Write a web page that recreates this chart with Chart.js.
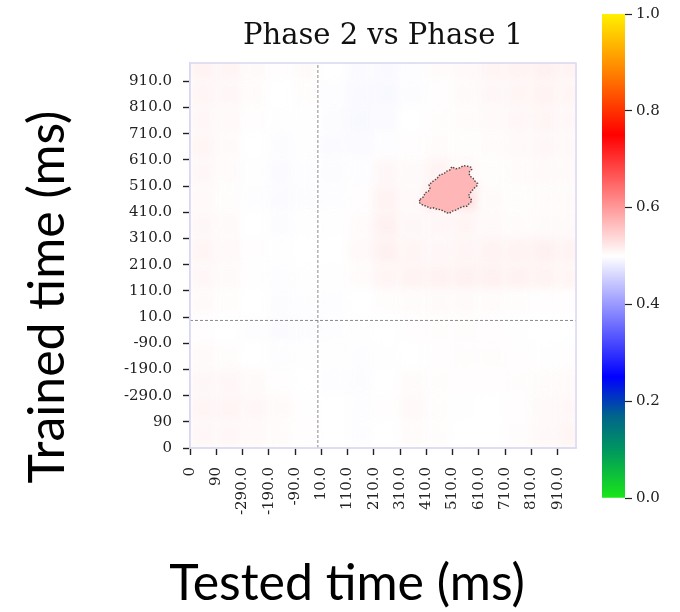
<!DOCTYPE html>
<html>
<head>
<meta charset="utf-8">
<script src="https://cdn.jsdelivr.net/npm/chart.js@4.4.1/dist/chart.umd.min.js"></script>
<style>
  html, body { margin: 0; padding: 0; background: #fff; }
  #wrap { position: relative; width: 680px; height: 612px; }
  .layer { position: absolute; left: 0; top: 0; width: 680px; height: 612px; }
</style>
</head>
<body>
<div id="wrap">
  <div class="layer"><canvas id="heat"></canvas></div>
  <div class="layer"><canvas id="cbar"></canvas></div>
</div>
<script>
// tick labels, same on both axes (index 0 at bottom/left)
const tickLabels = ['0', '90', '-290.0', '-190.0', '-90.0', '10.0', '110.0', '210.0',
                    '310.0', '410.0', '510.0', '610.0', '710.0', '810.0', '910.0'];
const axisMax = 14.7;
const onsetTick = 4.87;   // where the dashed lines cross (time 0)

// decoding values, one cell per tick step; rows run from the top (y=14) down to y=0
const heatRows = [
  [0.512, 0.510, 0.505, 0.502, 0.505, 0.500, 0.496, 0.494, 0.498, 0.504, 0.506, 0.510, 0.512, 0.514, 0.512],
  [0.510, 0.508, 0.504, 0.500, 0.503, 0.498, 0.494, 0.493, 0.497, 0.502, 0.505, 0.508, 0.510, 0.512, 0.510],
  [0.508, 0.506, 0.502, 0.499, 0.501, 0.497, 0.493, 0.495, 0.500, 0.503, 0.504, 0.506, 0.508, 0.510, 0.508],
  [0.510, 0.505, 0.500, 0.497, 0.499, 0.496, 0.495, 0.498, 0.502, 0.504, 0.503, 0.504, 0.506, 0.508, 0.507],
  [0.508, 0.504, 0.499, 0.496, 0.498, 0.497, 0.498, 0.508, 0.505, 0.512, 0.507, 0.503, 0.504, 0.506, 0.506],
  [0.506, 0.503, 0.498, 0.496, 0.497, 0.498, 0.502, 0.512, 0.506, 0.525, 0.528, 0.505, 0.503, 0.504, 0.505],
  [0.508, 0.505, 0.500, 0.497, 0.499, 0.499, 0.504, 0.514, 0.508, 0.508, 0.510, 0.506, 0.504, 0.505, 0.506],
  [0.510, 0.506, 0.502, 0.499, 0.500, 0.500, 0.506, 0.514, 0.510, 0.508, 0.510, 0.512, 0.512, 0.514, 0.512],
  [0.508, 0.505, 0.501, 0.498, 0.499, 0.499, 0.504, 0.510, 0.512, 0.513, 0.514, 0.514, 0.513, 0.512, 0.510],
  [0.505, 0.503, 0.500, 0.497, 0.498, 0.498, 0.500, 0.503, 0.504, 0.505, 0.505, 0.504, 0.503, 0.502, 0.502],
  [0.502, 0.500, 0.498, 0.496, 0.497, 0.498, 0.499, 0.500, 0.502, 0.503, 0.503, 0.502, 0.501, 0.500, 0.500],
  [0.505, 0.503, 0.500, 0.498, 0.499, 0.499, 0.498, 0.499, 0.500, 0.502, 0.503, 0.503, 0.502, 0.501, 0.502],
  [0.508, 0.508, 0.505, 0.502, 0.500, 0.498, 0.497, 0.500, 0.504, 0.503, 0.502, 0.502, 0.503, 0.504, 0.505],
  [0.510, 0.510, 0.508, 0.505, 0.502, 0.500, 0.498, 0.502, 0.506, 0.503, 0.501, 0.500, 0.502, 0.506, 0.508],
  [0.508, 0.508, 0.506, 0.504, 0.502, 0.500, 0.498, 0.500, 0.504, 0.503, 0.500, 0.500, 0.503, 0.507, 0.510]
];

// significant cluster outline (tested tick, trained tick) and the small hole inside it
const clusterValue = 0.572;
const clusterX = [8.76, 8.90, 8.95, 9.08, 9.14, 9.10, 9.26, 9.40, 9.52, 9.66, 9.78, 9.90, 9.97, 10.12, 10.28, 10.42,
                  10.56, 10.70, 10.73, 10.62, 10.66, 10.78, 10.85, 10.95, 10.92, 10.82, 10.73, 10.64, 10.60, 10.70,
                  10.73, 10.62, 10.54, 10.40, 10.28, 10.12, 9.97, 9.88, 9.78, 9.64, 9.52, 9.40, 9.26, 9.14, 9.01,
                  8.90, 8.82, 8.72, 8.76];
const clusterY = [9.49, 9.60, 9.74, 9.80, 9.93, 10.05, 10.19, 10.28, 10.44, 10.46, 10.57, 10.62, 10.74, 10.66, 10.70, 10.78,
                  10.76, 10.72, 10.64, 10.52, 10.38, 10.30, 10.19, 10.10, 10.00, 9.92, 9.81, 9.70, 9.61, 9.52,
                  9.42, 9.32, 9.23, 9.22, 9.17, 9.08, 9.04, 8.96, 8.98, 9.06, 9.10, 9.12, 9.17, 9.16, 9.23,
                  9.26, 9.30, 9.38, 9.49];
const holeX = [9.71, 9.84, 10.03, 10.22, 10.28, 10.18, 10.05, 9.90, 9.78, 9.71];
const holeY = [9.93, 9.80, 9.77, 9.90, 10.06, 10.02, 9.90, 9.90, 10.00, 9.93];

const colorbarTicks = [0, 0.2, 0.4, 0.6, 0.8, 1.0];

// colormap: green - blue - white - red - yellow
const cmapStops = [
  [0.00, [25, 230, 25]],
  [0.10, [0, 150, 95]],
  [0.17, [0, 100, 140]],
  [0.25, [0, 0, 255]],
  [0.50, [255, 255, 255]],
  [0.75, [255, 0, 0]],
  [0.88, [255, 130, 0]],
  [1.00, [255, 240, 0]]
];

function cmap(v, alpha) {
  v = Math.max(0, Math.min(1, v));
  for (let i = 1; i < cmapStops.length; i++) {
    const [p1, c1] = cmapStops[i];
    const [p0, c0] = cmapStops[i - 1];
    if (v <= p1) {
      const t = (v - p0) / (p1 - p0);
      const c = c0.map((a, k) => Math.round(a + (c1[k] - a) * t));
      return 'rgba(' + c.join(',') + ',' + (alpha == null ? 1 : alpha) + ')';
    }
  }
}

const toPoints = (xs, ys) => xs.map((x, i) => ({x: x, y: ys[i]}));

const serif = 'DejaVu Serif';
const frameColor = '#d8d8f2';

const heatmapPlugin = {
  id: 'heatmap',
  beforeDatasetsDraw(chart) {
    const {ctx, chartArea, scales} = chart;
    const n = heatRows.length;
    ctx.save();
    ctx.beginPath();
    ctx.rect(chartArea.left, chartArea.top, chartArea.width, chartArea.height);
    ctx.clip();
    ctx.filter = 'blur(5px)';
    heatRows.forEach((row, r) => {
      const yi = n - 1 - r;
      row.forEach((v, c) => {
        const x0 = scales.x.getPixelForValue(c), x1 = scales.x.getPixelForValue(c + 1);
        const y0 = scales.y.getPixelForValue(yi + 1), y1 = scales.y.getPixelForValue(yi);
        ctx.fillStyle = cmap(v);
        ctx.fillRect(x0 - 0.5, y0 - 0.5, x1 - x0 + 1, y1 - y0 + 1);
      });
    });
    ctx.restore();
  },
  afterDraw(chart) {
    const {ctx, chartArea} = chart;
    ctx.save();
    ctx.strokeStyle = frameColor;
    ctx.lineWidth = 1.5;
    ctx.strokeRect(chartArea.left, chartArea.top, chartArea.width, chartArea.height);
    // the big slide labels
    ctx.fillStyle = '#000';
    ctx.font = '50px Lato';
    ctx.textAlign = 'center';
    ctx.textBaseline = 'middle';
    ctx.fillText('Tested time (ms)', 347, 584);
    ctx.translate(48, 297);
    ctx.rotate(-Math.PI / 2);
    ctx.fillText('Trained time (ms)', 0, 0);
    ctx.restore();
  }
};

const tickFont = {family: serif, size: 15};

new Chart(document.getElementById('heat'), {
  type: 'scatter',
  data: {
    datasets: [
      {
        type: 'line',
        data: toPoints(clusterX, clusterY),
        borderColor: '#4a4a4a',
        borderWidth: 1.4,
        borderDash: [1.5, 1.5],
        backgroundColor: cmap(clusterValue),
        fill: 'shape',
        pointRadius: 0,
        tension: 0
      },
      {
        type: 'line',
        data: toPoints(holeX, holeY),
        borderColor: '#4a4a4a',
        borderWidth: 1.3,
        borderDash: [1.5, 1.5],
        backgroundColor: cmap(0.53),
        fill: 'shape',
        pointRadius: 0,
        tension: 0
      },
      {
        type: 'line',
        data: [{x: onsetTick, y: 0}, {x: onsetTick, y: axisMax}],
        borderColor: '#8a8a8a',
        borderWidth: 1,
        borderDash: [3, 2],
        pointRadius: 0,
        fill: false
      },
      {
        type: 'line',
        data: [{x: 0, y: onsetTick}, {x: axisMax, y: onsetTick}],
        borderColor: '#8a8a8a',
        borderWidth: 1,
        borderDash: [3, 2],
        pointRadius: 0,
        fill: false
      }
    ]
  },
  options: {
    responsive: true,
    maintainAspectRatio: false,
    animation: false,
    events: [],
    layout: {padding: {left: 0, right: 104, top: 0, bottom: 0}},
    plugins: {
      legend: {display: false},
      tooltip: {enabled: false},
      title: {
        display: true,
        fullSize: false,
        text: 'Phase 2 vs Phase 1',
        color: '#111',
        font: {family: serif, size: 29, weight: 'normal'},
        padding: {top: 19, bottom: 9.2}
      }
    },
    scales: {
      x: {
        type: 'linear',
        min: 0,
        max: axisMax,
        afterBuildTicks: (s) => { s.ticks = tickLabels.map((_, i) => ({value: i})); },
        afterFit: (s) => { s.height = 164; },
        ticks: {
          callback: (v) => tickLabels[v],
          autoSkip: false,
          minRotation: 90,
          maxRotation: 90,
          padding: 12,
          color: '#222',
          font: tickFont
        },
        grid: {drawOnChartArea: false, drawTicks: true, tickLength: 7, tickColor: '#222', tickWidth: 1.4},
        border: {color: frameColor, width: 1.5}
      },
      y: {
        type: 'linear',
        min: 0,
        max: axisMax,
        afterBuildTicks: (s) => { s.ticks = tickLabels.map((_, i) => ({value: i})); },
        afterFit: (s) => { s.width = 190; },
        ticks: {
          callback: (v) => tickLabels[v],
          autoSkip: false,
          padding: 11,
          color: '#222',
          font: tickFont
        },
        grid: {drawOnChartArea: false, drawTicks: true, tickLength: 7, tickColor: '#222', tickWidth: 1.4},
        border: {color: frameColor, width: 1.5}
      }
    }
  },
  plugins: [heatmapPlugin]
});

// colour bar
new Chart(document.getElementById('cbar'), {
  type: 'bar',
  data: {
    labels: [''],
    datasets: [{
      data: [[0, 1]],
      barPercentage: 1,
      categoryPercentage: 1,
      borderWidth: 0,
      backgroundColor: (ctx) => {
        const area = ctx.chart.chartArea;
        if (!area) return 'transparent';
        const g = ctx.chart.ctx.createLinearGradient(0, area.bottom, 0, area.top);
        cmapStops.forEach(([p, c]) => g.addColorStop(p, 'rgb(' + c.join(',') + ')'));
        return g;
      }
    }]
  },
  options: {
    responsive: true,
    maintainAspectRatio: false,
    animation: false,
    events: [],
    layout: {padding: {left: 602, right: 0, top: 14, bottom: 114}},
    plugins: {legend: {display: false}, tooltip: {enabled: false}},
    scales: {
      x: {display: false},
      y: {
        position: 'right',
        min: 0,
        max: 1,
        afterBuildTicks: (s) => { s.ticks = colorbarTicks.map((v) => ({value: v})); },
        afterFit: (s) => { s.width = 55; },
        ticks: {
          callback: (v) => v.toFixed(1),
          padding: 4,
          color: '#222',
          font: tickFont
        },
        grid: {drawOnChartArea: false, drawTicks: true, tickLength: 7, tickColor: '#222', tickWidth: 1.2},
        border: {display: false}
      }
    }
  }
});
</script>
</body>
</html>
